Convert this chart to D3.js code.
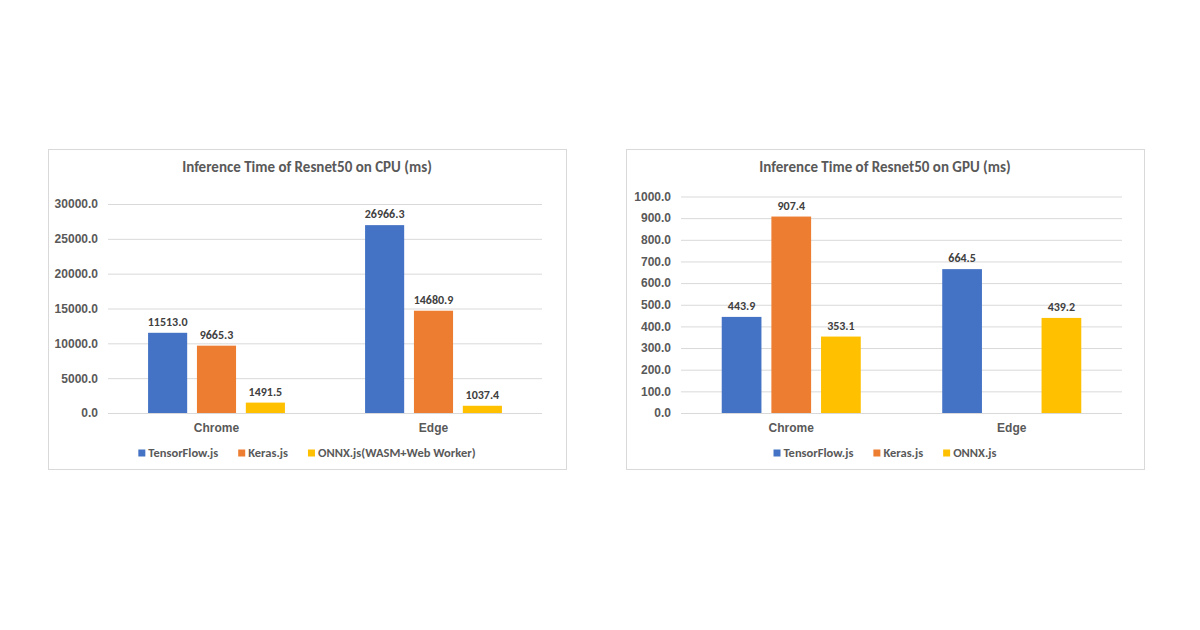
<!DOCTYPE html>
<html>
<head>
<meta charset="utf-8">
<script src="https://cdn.jsdelivr.net/npm/d3@7"></script>
<style>
  body { margin: 0; background: #fff; }
  svg { font-family: Calibri, Carlito, "Open Sans", sans-serif; }
</style>
</head>
<body>
<svg id="chart" width="1200" height="630"></svg>
<script>
const browsers = ['Chrome', 'Edge']
const cpuSeries = ['TensorFlow.js', 'Keras.js', 'ONNX.js(WASM+Web Worker)']
const gpuSeries = ['TensorFlow.js', 'Keras.js', 'ONNX.js']
const cpuValues = [[11513.0, 26966.3], [9665.3, 14680.9], [1491.5, 1037.4]]
const gpuValues = [[443.9, 664.5], [907.4, null], [353.1, 439.2]]
const cpuTicks = [0, 5000, 10000, 15000, 20000, 25000, 30000]
const gpuTicks = [0, 100, 200, 300, 400, 500, 600, 700, 800, 900, 1000]
const colors = ['#4472C4', '#ED7D31', '#FFC000']

const svg = d3.select('#chart')
const textColor = '#595959'

function drawChart(opts) {
    let g = svg.append('g').attr('transform', 'translate(' + opts.x + ',' + opts.y + ')')
    let w = opts.w, h = opts.h

    g.append('rect')
        .attr('x', 0.5).attr('y', 0.5)
        .attr('width', w).attr('height', h)
        .attr('fill', '#fff')
        .attr('stroke', '#d9d9d9')

    g.append('text')
        .attr('x', w / 2).attr('y', 23)
        .attr('text-anchor', 'middle')
        .attr('font-size', 15).attr('font-weight', 'bold')
        .attr('fill', textColor)
        .text(opts.title)

    let xScale = d3.scaleBand().domain(browsers).range([opts.left, opts.right])
    let inner = d3.scaleBand().domain(d3.range(opts.series.length))
        .range([0, xScale.bandwidth()])
        .paddingInner(0.2).paddingOuter(opts.outer)
    let yScale = d3.scaleLinear().domain([0, d3.max(opts.ticks)]).range([opts.bottom, opts.top])

    let yAxis = g.append('g')
        .attr('transform', 'translate(' + opts.left + ',0)')
        .call(d3.axisLeft(yScale).tickValues(opts.ticks)
            .tickSize(-(opts.right - opts.left)).tickPadding(10)
            .tickFormat(d3.format('.1f')))
    yAxis.select('.domain').remove()
    yAxis.selectAll('line').attr('stroke', '#d9d9d9')
    yAxis.selectAll('text')
        .attr('font-size', 12).attr('font-weight', 'bold')
        .attr('fill', textColor).attr('font-family', null)

    let xAxis = g.append('g')
        .attr('transform', 'translate(0,' + opts.bottom + ')')
        .call(d3.axisBottom(xScale).tickSize(0).tickPadding(10))
    xAxis.select('.domain').remove()
    xAxis.selectAll('text')
        .attr('font-size', 12).attr('font-weight', 'bold')
        .attr('fill', textColor).attr('font-family', null)

    opts.values.forEach((vals, si) => {
        let data = browsers.map((b, bi) => ({ b: b, v: vals[bi] })).filter(d => d.v !== null)
        g.selectAll('.bar' + si)
            .data(data)
            .enter()
            .append('rect')
            .attr('x', d => xScale(d.b) + inner(si))
            .attr('y', d => yScale(d.v))
            .attr('width', inner.bandwidth())
            .attr('height', d => opts.bottom - yScale(d.v))
            .attr('fill', colors[si])
        g.selectAll('.label' + si)
            .data(data)
            .enter()
            .append('text')
            .attr('x', d => xScale(d.b) + inner(si) + inner.bandwidth() / 2)
            .attr('y', d => yScale(d.v) - 7)
            .attr('text-anchor', 'middle')
            .attr('font-size', 12).attr('font-weight', 'bold')
            .attr('fill', '#404040')
            .text(d => d.v.toFixed(1))
    })

    let legend = g.append('g').attr('transform', 'translate(0,' + opts.legendY + ')')
    let items = legend.selectAll('g')
        .data(opts.series)
        .enter()
        .append('g')
    items.append('rect')
        .attr('y', -7.5).attr('width', 7).attr('height', 7)
        .attr('fill', (d, i) => colors[i])
    items.append('text')
        .attr('x', 10).attr('y', 0)
        .attr('font-size', 12.5).attr('font-weight', 'bold')
        .attr('fill', textColor)
        .text(d => d)
    let offset = 0, positions = []
    items.each(function () {
        positions.push(offset)
        offset += this.getBBox().width + 20
    })
    let total = offset - 20
    let start = w / 2 - total / 2
    items.attr('transform', (d, i) => 'translate(' + (start + positions[i]) + ',0)')
}

drawChart({
    x: 48, y: 149, w: 518, h: 320,
    title: 'Inference Time of Resnet50 on CPU (ms)',
    series: cpuSeries, values: cpuValues, ticks: cpuTicks,
    left: 60, right: 494, top: 55, bottom: 264, outer: 0.82,
    legendY: 308
})

drawChart({
    x: 626, y: 149, w: 518, h: 320,
    title: 'Inference Time of Resnet50 on GPU (ms)',
    series: gpuSeries, values: gpuValues, ticks: gpuTicks,
    left: 55, right: 496, top: 47.5, bottom: 264, outer: 0.82,
    legendY: 308
})
</script>
</body>
</html>
